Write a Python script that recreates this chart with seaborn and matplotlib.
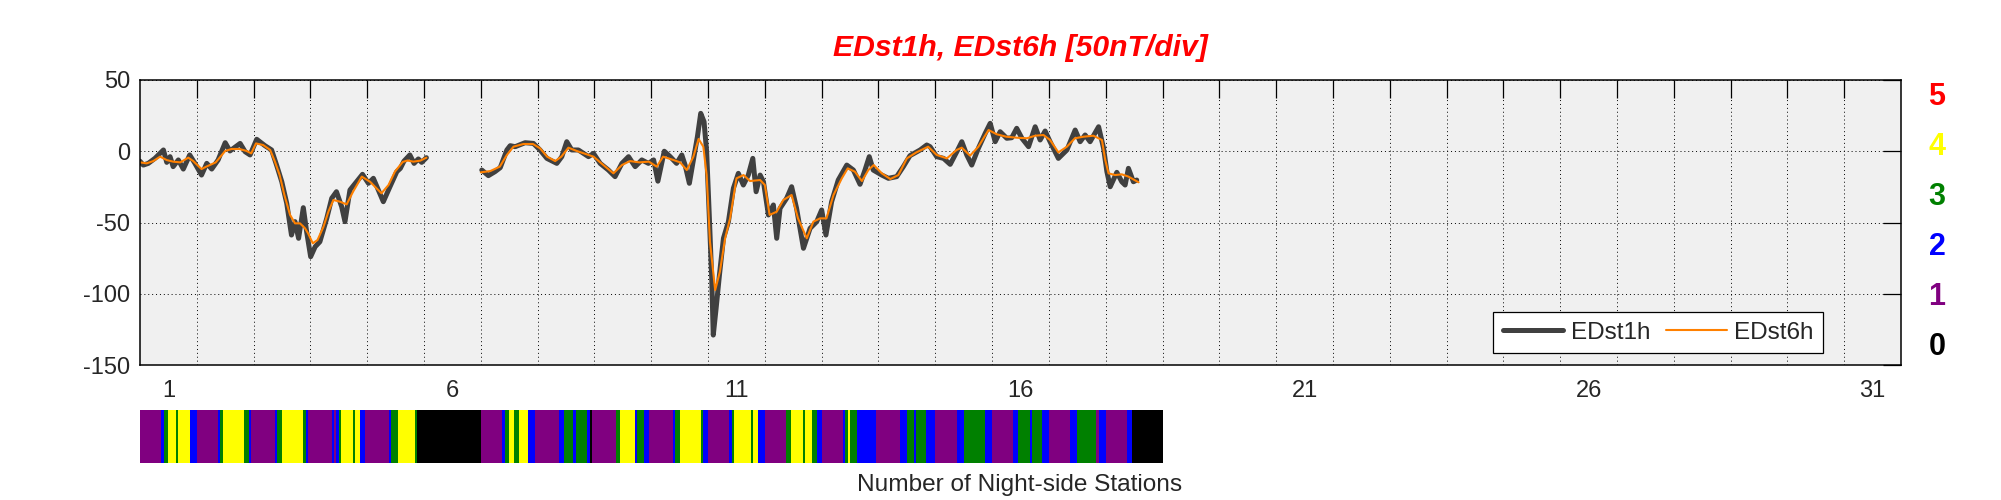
import numpy as np
import pandas as pd
import matplotlib
matplotlib.use("Agg")
import matplotlib.pyplot as plt
import seaborn as sns
from matplotlib.colors import ListedColormap
from matplotlib.lines import Line2D

# ---------------- data ----------------
# EDst1h (hour of month, nT) - two segments separated by a data gap
edst1h_hours_a = [0, 1.4, 3.5, 6.3, 9.9, 11.3, 12.7, 14, 16.2, 18.3, 21, 23.2, 26, 28.2, 30.3, 33,
                  36, 38, 42.3, 44.4, 46.5, 49.3, 52.8, 55.6, 57.7, 59.9, 62, 64, 65.5, 67, 69, 70.4,
                  72.1, 74, 76, 78.9, 81, 83, 85.2, 86.6, 88.7, 91.5, 94, 96.5, 98.6, 100.7, 102.8,
                  105.6, 108.5, 110, 111.5, 114, 115.8, 117.6, 119, 121]
edst1h_vals_a = [-7, -9.7, -8.5, -5, 0.9, -7.8, -3.8, -10.8, -6.1, -12.5, -2.6, -8.5, -16.7, -8.5, -12.5, -6.1,
                 6, 0.2, 5.5, -0.3, -2.6, 8.4, 3.9, 0.9, -9.7, -21.4, -36.6, -58.8, -49.4, -61.1, -39.6, -56.4,
                 -74, -67, -63.5, -47.1, -33, -28.4, -38.9, -49.4, -27.2, -21.4, -16.2, -22.5, -19, -27.2, -35.4,
                 -24.9, -14.3, -12, -7, -2.6, -8.5, -5.4, -7.8, -4.5]
edst1h_hours_b = [144.4, 147.2, 150, 152.2, 155, 156.4, 158.5, 162.7, 166.2, 169, 171.9, 176.1, 178.2, 180.3,
                  182.4, 185.2, 187.4, 189.5, 191.6, 194.4, 197.9, 200.7, 203.6, 206.4, 209.2, 212, 214.8,
                  217, 218.8, 221.5, 224, 226.7, 228.9, 230.3, 232.1, 233.8, 235.5, 236.9, 238.3, 239.4,
                  240.5, 241.5, 242.2, 243.4, 244.8, 246.5, 248.6, 250.7, 252.8, 254.9, 257, 258.9, 260.3,
                  262, 263.4, 265.5, 267.6, 269, 270.4, 273.2, 275.3, 277.4, 280.3, 283.1, 285.9, 288, 289.8,
                  292.2, 295, 298.6, 301.4, 304.2, 306.3, 308.1, 309.8, 313.4, 316.2, 319.7, 322.5, 325.3,
                  329.6, 332.4, 333.8, 336.6, 339.5, 342.3, 345.1, 347.2, 349.3, 351.4, 354.2, 357.1, 359.2,
                  361.3, 363.4, 366.2, 368.3, 370.4, 372.6, 375.4, 378.2, 380.3, 382.4, 384.5, 388, 391.6,
                  395.1, 397.2, 399.3, 401.4, 405, 407.1, 408.5, 409.9, 412.7, 414.8, 416.2, 417.6, 419.7, 421.1]
edst1h_vals_b = [-13.2, -17.1, -14.3, -11.5, 0.9, 3.9, 3.2, 6, 5.5, 0.9, -5, -8.5, -3.8, 6.7,
                 0.9, 0.9, -1.5, -3.8, -1.5, -8.5, -13.2, -17.8, -8.5, -3.8, -10.8, -6.1, -8.5,
                 -6.1, -21, 0, -3.8, -8.5, -2.6, -9.7, -22.5, -6.1, 10.2, 26.6, 20.7, -0.3,
                 -44.7, -86.9, -129, -110.2, -86.9, -61.1, -49.4, -26, -15.5, -23.7, -16.7, -5, -28.4,
                 -16.7, -21.4, -44.7, -37.7, -61.1, -40.1, -33, -24.9, -40.1, -68.1, -54.1, -49.4, -41.2, -58.8,
                 -35.4, -20.2, -9.7, -13.2, -23.2, -13.2, -3.8, -13.2, -16.7, -19, -17.8, -10.8, -3.1,
                 0.9, 4.4, 3.2, -3.8, -5, -9.2, -0.3, 6.7, -2.6, -9.7, 2.1, 12.6, 19.6,
                 6.7, 13.7, 9.1, 9.5, 16.1, 9.1, 3.2, 17.2, 7.9, 14.2, 6.7, -5, 0.9,
                 14.9, 6.7, 11.4, 6.7, 17.2, 2.1, -14.3, -24.9, -14.8, -21.4, -23.7, -12, -21.4, -20.2]

# EDst6h (hour of month, nT)
edst6h_hours_a = [0, 2.8, 5.6, 8.5, 11.3, 14, 17, 20.4, 22.5, 26, 28, 32, 36, 38.7, 42, 45, 47, 49, 52,
                  55, 57, 59, 61, 63.4, 65.5, 67.6, 69.7, 71, 73, 75, 77.5, 79.6, 81.7, 84.5, 87.3, 90,
                  93.7, 97.2, 102, 105, 107.7, 111, 113, 115.5, 118.4, 121]
edst6h_vals_a = [-7.8, -8.5, -6.9, -3.8, -6.2, -7.3, -7.8, -4.5, -6.9, -12.5, -10.8, -7.8, 0.2, 1.6, 1.6,
                 0.2, -1.5, 5.5, 4.4, 0.9, -7.3, -16.7, -30.7, -44.7, -50.6, -50.6, -54, -57.6, -64.6,
                 -62.3, -53, -42.4, -34.2, -35.4, -37.3, -28.4, -17.8, -21.4, -29.5, -23.7, -14.3, -7.5,
                 -6.5, -7.3, -6.6, -4.5]
edst6h_hours_b = [144, 148, 152, 155, 157.8, 162, 166, 169, 172, 175.4, 178, 181, 184.5, 188.8, 191.6,
                  195.8, 200, 203.6, 207, 211, 215, 218.3, 221, 225.3, 228.2, 231, 233.8, 236, 238,
                  239.4, 240.8, 243, 245, 247.2, 249.3, 252, 255, 257.7, 262, 264, 266, 269, 271.8,
                  275.3, 278, 281.7, 284.5, 287.3, 290, 293, 296.5, 299, 302, 305, 307.7, 310, 313.4,
                  317, 320.4, 324, 328, 333, 336.6, 340.9, 345, 347.2, 350.7, 354.2, 358.5, 362, 366,
                  370.4, 374.7, 378.2, 381.7, 384.5, 388, 391.6, 395, 398.6, 402.8, 406.4, 407.8,
                  409.2, 412, 414.8, 417.6, 421.9]
edst6h_vals_b = [-14.8, -13.9, -10.8, -2.6, 3.2, 5.1, 5.1, 2.1, -3.8, -6.9, -3.8, 2.5, 0.2, -2.2, -3.8,
                 -9.7, -15.5, -9.7, -6.9, -7.8, -7.3, -10.8, -3.8, -6.1, -7.8, -13.2, -3.8, 8.6, 3.2,
                 -16.7, -63.5, -97.4, -84.5, -61.1, -47.1, -19, -16.7, -20.9, -20.2, -23.7, -44.7, -42.4, -34.2,
                 -30.7, -47.1, -61.1, -49.4, -47.1, -47.1, -30.7, -19, -12, -14.3, -20.9, -13.2, -9.7, -15.5,
                 -19.5, -16.7, -5, -0.8, 3.2, -2.6, -5, 0.9, 2.5, -3.1, 3.2, 14.9, 11.9, 10.2,
                 9.5, 9.1, 10.9, 11.4, 7.9, -0.8, 3.2, 9.1, 10.2, 10.9, 7.9, -6.1,
                 -15.5, -16.7, -16.2, -17.8, -21.8]

# Number of night-side stations: run-length encoded (value, duration in hours)
station_counts = [1, 2, 3, 4, 3, 4, 2, 1, 2, 3, 4, 3, 2, 1, 2, 3, 4, 3, 2, 1, 2, 1, 2, 3, 4, 3, 4, 2,
                  1, 2, 3, 4, 3, 0, 1, 2, 3, 4, 3, 4, 2, 1, 2, 3, 2, 3, 2, 0, 1, 3, 4, 2, 3, 2,
                  1, 2, 3, 4, 3, 2, 1, 2, 3, 4, 3, 4, 2, 1, 3, 4, 3, 4, 3, 2, 1, 2, 3, 4, 3, 2,
                  1, 2, 3, 2, 3, 2, 1, 2, 3, 2, 1, 2, 3, 2, 3, 2, 1, 2, 3, 1, 2, 1, 2, 0]
station_durations = [9, 1, 2, 3, 1, 5, 3, 9, 1, 1, 9, 2, 1, 10, 1, 2, 9, 1, 1, 10, 1, 1, 1, 1, 5, 1, 2, 2,
                     10, 1, 3, 7, 1, 27, 9, 1, 2, 2, 2, 4, 3, 10, 2, 4, 1, 5, 1, 1, 10, 2, 6, 1, 3, 2,
                     10, 1, 2, 9, 1, 2, 9, 1, 1, 7, 1, 2, 3, 9, 2, 5, 1, 3, 2, 2, 9, 1, 1, 1, 3, 8,
                     10, 3, 3, 1, 4, 4, 9, 3, 9, 3, 9, 2, 5, 1, 4, 3, 9, 3, 8, 1, 3, 9, 2, 13]

day_labels = ["1", "6", "11", "16", "21", "26", "31"]
station_labels = ["5", "4", "3", "2", "1", "0"]
station_label_colors = ["#ff0000", "#ffff00", "#008000", "#0000ff", "#800080", "#000000"]
strip_colors = ["#000000", "#800080", "#0000ff", "#008000", "#ffff00", "#ff0000"]

# ---------------- build frames ----------------
def frame(hours_list, vals_list):
    parts = []
    for i, (h, v) in enumerate(zip(hours_list, vals_list)):
        parts.append(pd.DataFrame({"day": np.asarray(h) / 24.0, "val": v, "seg": i}))
    return pd.concat(parts, ignore_index=True)

df1 = frame([edst1h_hours_a, edst1h_hours_b], [edst1h_vals_a, edst1h_vals_b])
df6 = frame([edst6h_hours_a, edst6h_hours_b], [edst6h_vals_a, edst6h_vals_b])
stations = np.repeat(station_counts, station_durations)

# ---------------- figure ----------------
sns.set_theme(style="white")
plt.rcParams["font.family"] = ["Liberation Sans", "DejaVu Sans"]
plt.rcParams["axes.unicode_minus"] = False

W, H = 2001, 500
fig = plt.figure(figsize=(W / 100, H / 100), dpi=100)
ax = fig.add_axes([140 / W, 1 - 365 / H, 1761 / W, 285 / H])
ax.set_facecolor("#f0f0f0")

c1h = "#404040"
c6h = "#ff8000"
sns.lineplot(data=df1, x="day", y="val", units="seg", estimator=None, sort=False,
             color=c1h, lw=3.6, ax=ax, legend=False)
sns.lineplot(data=df6, x="day", y="val", units="seg", estimator=None, sort=False,
             color=c6h, lw=1.5, ax=ax, legend=False)

ax.set_xlim(0, 31)
ax.set_ylim(-150, 50)
ax.set_xlabel("")
ax.set_ylabel("")

ax.set_xticks(np.arange(1, 31))
ax.set_xticklabels([])
ax.set_xticks(np.arange(len(day_labels)) * 5 + 0.5, minor=True)
ax.set_xticklabels(day_labels, minor=True)
ax.set_yticks(np.arange(-150, 51, 50))
ax.tick_params(axis="both", which="major", direction="in", length=13, width=0.9, color="black",
               top=True, right=True, labelsize=17, pad=7)
ax.tick_params(axis="x", which="minor", length=0, labelsize=17, pad=11)
ax.tick_params(axis="x", which="major", pad=11)
ax.grid(True, which="major", color="black", lw=0.7, ls=(0, (1, 3)))
ax.grid(False, which="minor")
for s in ax.spines.values():
    s.set_color("black")
    s.set_linewidth(1.1)

handles = [Line2D([], [], color=c1h, lw=3.6), Line2D([], [], color=c6h, lw=1.5)]
leg = ax.legend(handles, ["EDst1h", "EDst6h"], ncol=2, loc="center",
                bbox_to_anchor=(0.862, 0.114), frameon=True, fancybox=False,
                edgecolor="black", framealpha=1, fontsize=17.5, handlelength=2.5,
                handletextpad=0.3, columnspacing=0.65, borderpad=0.4)
leg.get_frame().set_linewidth(0.9)

# title and side labels
fig.text(1020 / W, 1 - 48 / H, "EDst1h, EDst6h [50nT/div]", color="#ff0000",
         fontsize=21.7, fontweight="bold", fontstyle="italic", ha="center", va="center")
for i, (lab, col) in enumerate(zip(station_labels, station_label_colors)):
    fig.text(1937 / W, 1 - (97 + 50 * i) / H, lab, color=col, fontsize=22,
             fontweight="bold", ha="center", va="center")

# station strip
ax2 = fig.add_axes([140 / W, 1 - 463 / H, 1761 / W, 53 / H])
sns.heatmap(stations[np.newaxis, :], cmap=ListedColormap(strip_colors), vmin=-0.5, vmax=5.5,
            cbar=False, ax=ax2, xticklabels=False, yticklabels=False)
ax2.set_xlim(0, 31 * 24)
ax2.axis("off")
fig.text(1020 / W, 1 - 490.7 / H, "Number of Night-side Stations", fontsize=17.6,
         ha="center", va="baseline")

fig.savefig("out.png", dpi=100, facecolor="white")
